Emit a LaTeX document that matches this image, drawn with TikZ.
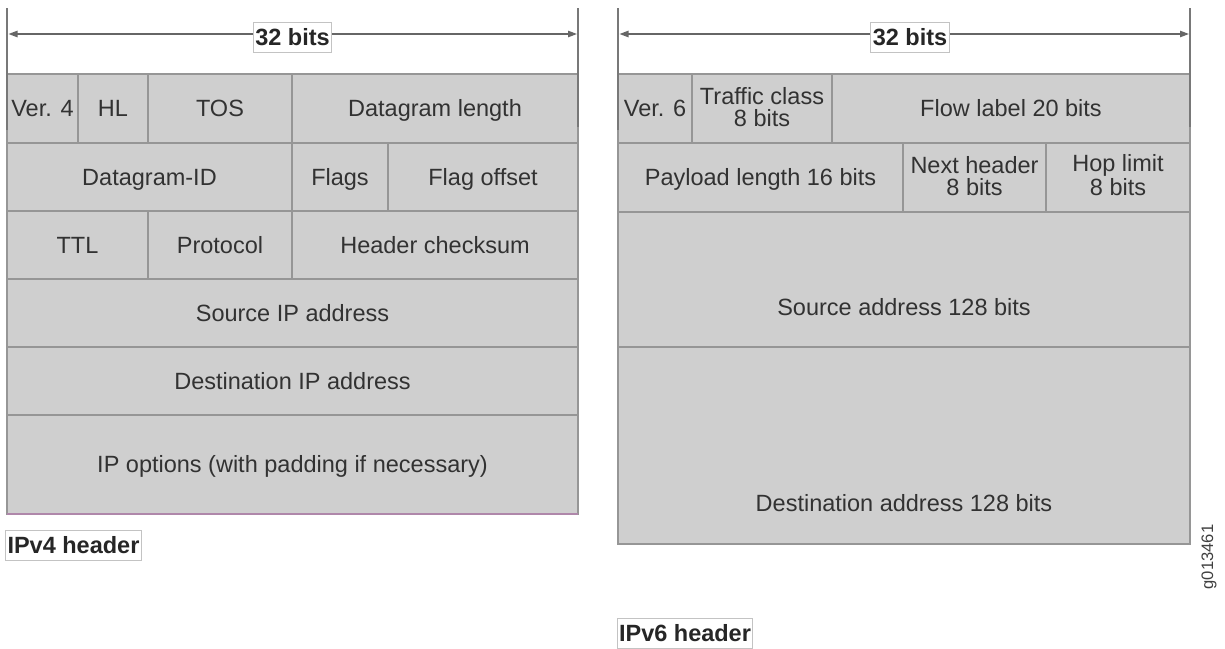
\documentclass[tikz,border=0pt]{standalone}
\usepackage{fontspec}
\setmainfont{Liberation Sans}
\usetikzlibrary{arrows.meta}
\definecolor{cellfill}{RGB}{207,207,207}
\definecolor{cellline}{RGB}{150,150,150}
\definecolor{celltext}{RGB}{50,50,50}
\definecolor{ruleline}{RGB}{120,120,120}
\definecolor{tagline}{RGB}{195,195,195}
\definecolor{edgepurple}{RGB}{175,135,170}

% one header field: [options] name, left, top, right, bottom, text
\newcommand\fld[7][]{%
  \node[fld, #1, minimum width={(#5-#3)*0.5pt}, minimum height={(#6-#4)*0.5pt}]
    (#2) at ({(#3+#5)/2},{(#4+#6)/2}) {#7};}

\tikzset{
  fld/.style={draw=cellline, fill=cellfill, line width=0.75pt, inner sep=0pt,
    outer sep=0pt, text=celltext, align=center,
    text height=10.4pt, text depth=2.4pt,
    font=\fontsize{11.75}{10.6}\selectfont},
  twoline/.style={text height=19.2pt, text depth=1.6pt},
  fldtext/.style={inner sep=0pt, text=celltext, text height=10.4pt, text depth=2.4pt,
    font=\fontsize{11.75}{10.6}\selectfont},
  tick/.style={draw=ruleline, line width=0.75pt},
  span/.style={draw=ruleline!85!black, line width=0.7pt,
    -{Triangle[length=4.5pt,width=3.2pt]}},
  tag/.style={draw=tagline, fill=white, line width=0.5pt, inner xsep=0.9pt,
    minimum height=14.5pt, text=black!85,
    font=\fontsize{11.75}{12}\selectfont\bfseries},
}

\begin{document}
\begin{tikzpicture}[x=0.5pt, y=-0.5pt]
\useasboundingbox (0,0) rectangle (1225,648);

% ---------------- IPv4 header ----------------
\fld{v4ver}{7}{74}{78}{143}{Ver. 4}
\fld{v4hl}{78}{74}{148}{143}{HL}
\fld{v4tos}{148}{74}{292}{143}{TOS}
\fld{v4len}{292}{74}{578}{143}{Datagram length}
\fld{v4id}{7}{143}{292}{211}{Datagram-ID}
\fld{v4flags}{292}{143}{388}{211}{Flags}
\fld{v4off}{388}{143}{578}{211}{Flag offset}
\fld{v4ttl}{7}{211}{148}{279}{TTL}
\fld{v4proto}{148}{211}{292}{279}{Protocol}
\fld{v4csum}{292}{211}{578}{279}{Header checksum}
\fld{v4src}{7}{279}{578}{347}{Source IP address}
\fld{v4dst}{7}{347}{578}{415}{Destination IP address}
\fld{v4opt}{7}{415}{578}{514}{IP options (with padding if necessary)}
\draw[edgepurple, line width=0.75pt] (v4opt.south west) -- (v4opt.south east);

% width marker
\coordinate (v4tl) at (7,8);   \coordinate (v4bl) at (7,130);
\coordinate (v4tr) at (578,8); \coordinate (v4br) at (578,127);
\draw[tick] (v4tl) -- (v4bl);
\draw[tick] (v4tr) -- (v4br);
\node[tag] (v4bits) at (292.5,37.5) {32 bits};
\coordinate (v4aL) at (8.5,34);
\coordinate (v4aR) at (577,34);
\draw[span] (v4bits.west |- v4aL) -- (v4aL);
\draw[span] (v4bits.east |- v4aR) -- (v4aR);

\node[tag] (v4cap) at (73.5,545.5) {IPv4 header};

% ---------------- IPv6 header ----------------
\fld{v6ver}{618}{74}{692}{143}{Ver. 6}
\fld[twoline]{v6tc}{692}{74}{832}{143}{Traffic class\\8 bits}
\fld{v6flow}{832}{74}{1190}{143}{Flow label 20 bits}
\fld{v6pay}{618}{143}{903}{212}{Payload length 16 bits}
\fld[twoline]{v6next}{903}{143}{1046}{212}{Next header\\8 bits}
\fld[twoline]{v6hop}{1046}{143}{1190}{212}{Hop limit\\8 bits}
\fld{v6src}{618}{212}{1190}{347}{}
\fld{v6dst}{618}{347}{1190}{544}{}
\node[fldtext] (v6srct) at (904,307) {Source address 128 bits};
\node[fldtext] (v6dstt) at (904,503) {Destination address 128 bits};

% width marker
\coordinate (v6tl) at (618,8);  \coordinate (v6bl) at (618,130);
\coordinate (v6tr) at (1190,8); \coordinate (v6br) at (1190,127);
\draw[tick] (v6tl) -- (v6bl);
\draw[tick] (v6tr) -- (v6br);
\node[tag] (v6bits) at (910,37.5) {32 bits};
\coordinate (v6aL) at (619.5,34);
\coordinate (v6aR) at (1189,34);
\draw[span] (v6bits.west |- v6aL) -- (v6aL);
\draw[span] (v6bits.east |- v6aR) -- (v6aR);

\node[tag] (v6cap) at (685,633.5) {IPv6 header};

% figure number
\node[rotate=90, inner sep=0pt, text=black!75,
      font=\fontsize{8.3}{9}\selectfont] (fignum) at (1209,557) {g013461};
\end{tikzpicture}
\end{document}
